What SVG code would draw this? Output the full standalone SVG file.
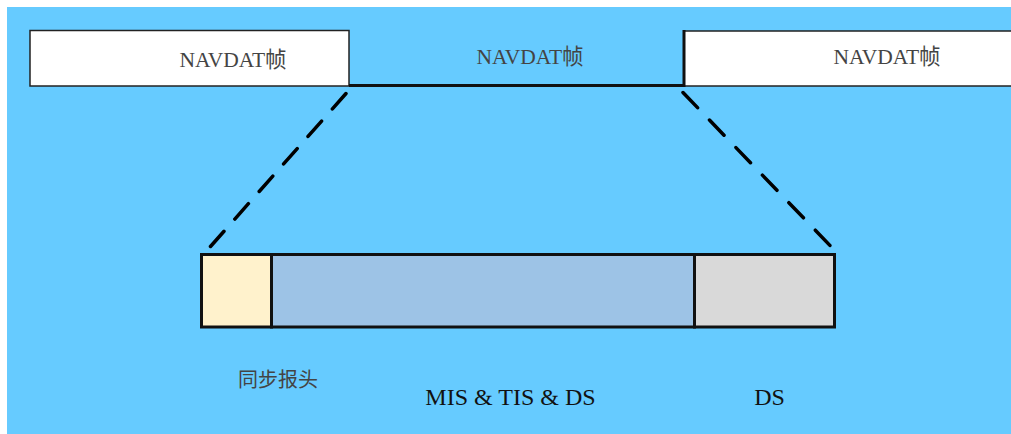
<svg xmlns="http://www.w3.org/2000/svg" width="1011" height="434" viewBox="0 0 1011 434">
<style>
.box{stroke:#222;stroke-width:1.5}
.seg{stroke:#111;stroke-width:3}
.lbl{font-family:"Liberation Serif","Noto Sans CJK SC",serif;font-size:21.5px;fill:#444}
.lbl3{font-family:"Liberation Serif","Noto Sans CJK SC",serif;font-size:20px;fill:#444}
.lbl2{font-family:"Liberation Serif","Noto Sans CJK SC",serif;font-size:24px;fill:#111}
.dash{stroke:#000;stroke-width:3.5;stroke-linecap:round;fill:none}
</style>
<rect x="0" y="0" width="1011" height="434" fill="#ffffff"/>
<rect x="7" y="7" width="1004" height="427" fill="#66CBFF"/>
<g id="frame-left">
<rect class="box" x="30" y="30.5" width="319" height="55.5" fill="#ffffff"/>
<text class="lbl" x="233" y="67" text-anchor="middle">NAVDAT帧</text>
</g>
<g id="frame-middle">
<text class="lbl" x="530" y="64" text-anchor="middle">NAVDAT帧</text>
</g>
<g id="frame-right">
<rect class="box" x="684" y="31" width="330" height="55" fill="#ffffff"/>
<text class="lbl" x="887" y="64" text-anchor="middle">NAVDAT帧</text>
</g>
<g id="sync-header">
<rect class="seg" x="201.5" y="254.5" width="70" height="72.5" fill="#FFF2CC"/>
<text class="lbl3" x="278" y="387" text-anchor="middle">同步报头</text>
</g>
<g id="mis-tis-ds">
<rect class="seg" x="271.5" y="254.5" width="423" height="72.5" fill="#9DC3E6"/>
<text class="lbl2" x="510.5" y="405" text-anchor="middle">MIS &amp; TIS &amp; DS</text>
</g>
<g id="ds">
<rect class="seg" x="694.5" y="254.5" width="140" height="72.5" fill="#D9D9D9"/>
<text class="lbl2" x="769.5" y="405" text-anchor="middle">DS</text>
</g>
<g id="connectors">
<polyline points="349,85.5 684,85.5 684,30" fill="none" stroke="#111" stroke-width="3"/>
<line class="dash" x1="346" y1="93.5" x2="210.5" y2="246.5" stroke-dasharray="20.5 16.3"/>
<line class="dash" x1="683" y1="92.5" x2="830" y2="245.5" stroke-dasharray="21 17.2"/>
</g>
</svg>
